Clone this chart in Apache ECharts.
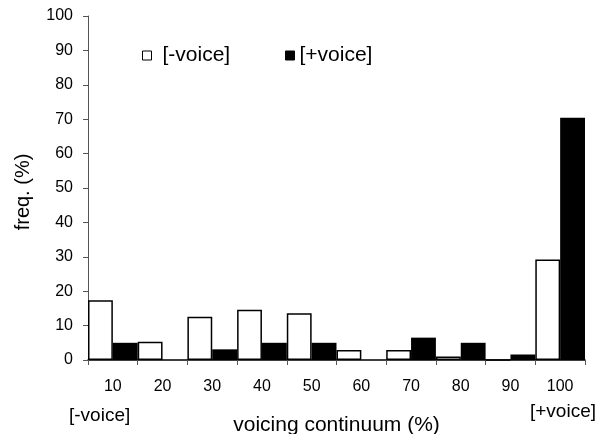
<!DOCTYPE html>
<html>
<head>
<meta charset="utf-8">
<script src="https://cdn.jsdelivr.net/npm/echarts@6/dist/echarts.min.js"></script>
<style>
  html, body { margin: 0; padding: 0; background: #fff; }
  #chart { width: 602px; height: 434px; }
</style>
</head>
<body>
<div id="chart"></div>
<script>
// Voicing continuum bins (%)
var categories = ['10', '20', '30', '40', '50', '60', '70', '80', '90', '100'];
// Frequency (%) per bin
var voicelessValues = [17.4, 5.3, 12.6, 14.6, 13.6, 2.9, 2.9, 1.0, 0, 29.2];
var voicedValues = [5.0, 0, 3.1, 5.0, 5.0, 0, 6.5, 5.0, 1.6, 70.4];
var yTicks = [0, 10, 20, 30, 40, 50, 60, 70, 80, 90, 100];

var FONT = '"Liberation Sans", Arial, sans-serif';

var chart = echarts.init(document.getElementById('chart'), null, { renderer: 'canvas' });

function legendBox(name, left, fill, gap) {
  return {
    left: left,
    top: 40,
    itemWidth: 9,
    itemHeight: 9,
    icon: 'rect',
    selectedMode: false,
    textStyle: { fontFamily: FONT, fontSize: 21, color: '#000', padding: [0, 0, 0, gap] },
    data: [{ name: name, itemStyle: { color: fill, borderColor: '#000', borderWidth: 1 } }]
  };
}

chart.setOption({
  animation: false,
  backgroundColor: '#ffffff',
  grid: { left: 88, right: 17, top: 16, bottom: 74, containLabel: false, outerBoundsMode: 'none' },
  legend: [
    legendBox('[-voice]', 137, '#fff', 6),
    legendBox('[+voice]', 280, '#000', 0)
  ],
  xAxis: {
    type: 'category',
    data: categories,
    boundaryGap: true,
    name: 'voicing continuum (%)',
    nameLocation: 'middle',
    nameGap: 55,
    nameTextStyle: { fontFamily: FONT, fontSize: 21, color: '#000' },
    axisLine: { lineStyle: { color: '#000', width: 1.5 } },
    axisTick: { show: true, alignWithLabel: false, length: 5, inside: false, lineStyle: { color: '#555', width: 1 } },
    axisLabel: { fontFamily: FONT, fontSize: 16, color: '#000', margin: 19 },
    splitLine: { show: false }
  },
  yAxis: {
    type: 'value',
    min: yTicks[0],
    max: yTicks[yTicks.length - 1],
    interval: 10,
    name: 'freq. (%)',
    nameLocation: 'middle',
    nameGap: 55,
    nameRotate: 90,
    nameTextStyle: { fontFamily: FONT, fontSize: 20, color: '#000', padding: [0, 8, 0, 0] },
    axisLine: { show: true, lineStyle: { color: '#555', width: 1 } },
    axisTick: { show: true, length: 5, lineStyle: { color: '#555', width: 1 } },
    axisLabel: { fontFamily: FONT, fontSize: 16, color: '#000', margin: 15 },
    splitLine: { show: false }
  },
  series: [
    {
      name: '[-voice]',
      type: 'bar',
      data: voicelessValues,
      barGap: '0%',
      barCategoryGap: '0%',
      itemStyle: { color: '#ffffff', borderColor: '#000', borderWidth: 1.5 }
    },
    {
      name: '[+voice]',
      type: 'bar',
      data: voicedValues,
      barGap: '0%',
      barCategoryGap: '0%',
      itemStyle: { color: '#000000', borderColor: '#000', borderWidth: 0 }
    }
  ],
  graphic: [
    {
      type: 'text',
      left: 69,
      top: 406,
      style: { text: '[-voice]', font: '19px ' + FONT, fill: '#000' }
    },
    {
      type: 'text',
      left: 530,
      top: 402,
      style: { text: '[+voice]', font: '19px ' + FONT, fill: '#000' }
    }
  ]
});
</script>
</body>
</html>
